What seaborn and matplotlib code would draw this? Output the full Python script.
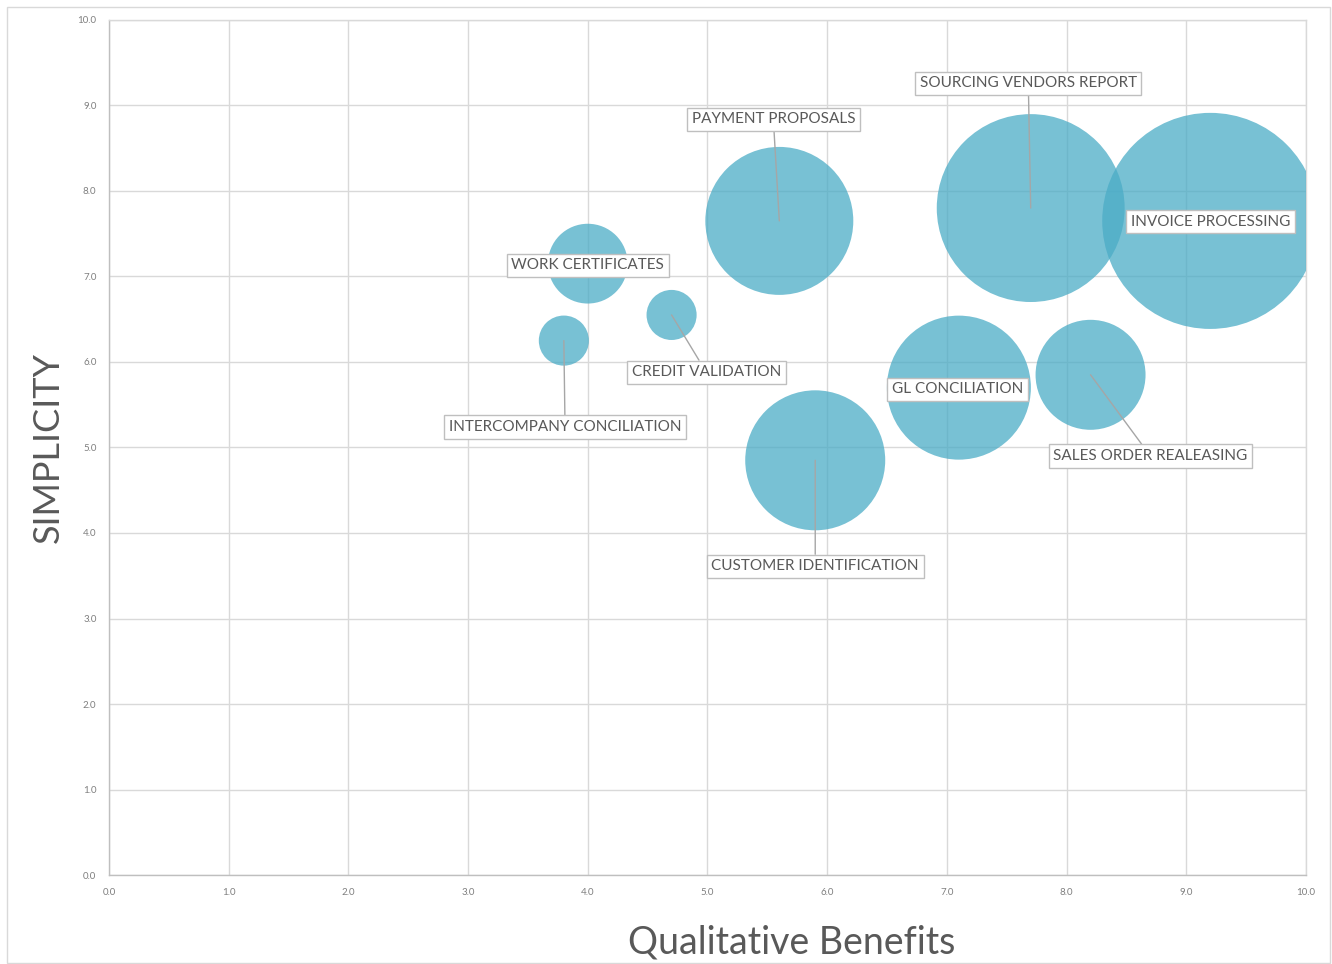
import matplotlib
matplotlib.use("Agg")
import matplotlib.pyplot as plt
import seaborn as sns
import pandas as pd
from matplotlib.patches import Rectangle

# Data
processes = ["INVOICE PROCESSING", "SOURCING VENDORS REPORT", "PAYMENT PROPOSALS",
             "WORK CERTIFICATES", "CREDIT VALIDATION", "INTERCOMPANY CONCILIATION",
             "GL CONCILIATION", "SALES ORDER REALEASING", "CUSTOMER IDENTIFICATION"]
benefits = [9.2, 7.7, 5.6, 4.0, 4.7, 3.8, 7.1, 8.2, 5.9]
simplicity = [7.65, 7.8, 7.65, 7.15, 6.55, 6.25, 5.7, 5.85, 4.85]
bubble = [24200, 18300, 11350, 3300, 1300, 1300, 10750, 6270, 10160]
label_x = [9.2, 7.68, 5.55, 4.0, 4.99, 3.81, 7.09, 8.7, 5.9]
label_y = [7.64, 9.26, 8.84, 7.13, 5.88, 5.24, 5.68, 4.9, 3.61]
leader = [False, True, True, False, True, True, False, True, True]
ticks = [0, 1, 2, 3, 4, 5, 6, 7, 8, 9, 10]

df = pd.DataFrame({"process": processes, "benefits": benefits,
                   "simplicity": simplicity, "bubble": bubble})

sns.set_theme(style="white")
plt.rcParams["font.family"] = ["Lato", "DejaVu Sans"]

fig = plt.figure(figsize=(13.32, 9.64), dpi=100)
ax = fig.add_axes([0.0818, 0.0923, 0.8987, 0.887])

sns.scatterplot(data=df, x="benefits", y="simplicity", size="bubble",
                sizes={v: v for v in bubble}, color="#4BACC6", alpha=0.75,
                edgecolor="none", linewidth=0, legend=False, ax=ax, zorder=3)

ax.set_xlim(0, 10)
ax.set_ylim(0, 10)
ax.set_xticks(ticks)
ax.set_yticks(ticks)
ax.set_xticklabels([f"{t:.1f}" for t in ticks], fontsize=7, color="#7f7f7f")
ax.set_yticklabels([f"{t:.1f}" for t in ticks], fontsize=7, color="#7f7f7f")
ax.tick_params(axis="both", length=0, pad=9)
ax.grid(True, color="#D9D9D9", linewidth=1)
ax.set_axisbelow(True)
for s in ax.spines.values():
    s.set_color("#D9D9D9")
    s.set_linewidth(1)
ax.spines["left"].set_color("#BFBFBF")
ax.spines["bottom"].set_color("#BFBFBF")

ax.set_xlabel("Qualitative Benefits", fontsize=27, color="#595959")
ax.xaxis.set_label_coords(0.57, -0.058)
ax.set_ylabel("SIMPLICITY", fontsize=26, color="#595959")
ax.yaxis.set_label_coords(-0.037, 0.5)

for name, px, py, lx, ly, ld in zip(processes, benefits, simplicity, label_x, label_y, leader):
    bbox = dict(boxstyle="square,pad=0.3", facecolor="white", edgecolor="#BFBFBF", linewidth=1)
    if ld:
        ax.annotate(name, xy=(px, py), xytext=(lx, ly), ha="center", va="center",
                    fontsize=11, color="#595959", bbox=bbox, zorder=5,
                    arrowprops=dict(arrowstyle="-", color="#A6A6A6", lw=1,
                                    shrinkA=0, shrinkB=0))
    else:
        ax.text(lx, ly, name, ha="center", va="center", fontsize=11,
                color="#595959", bbox=bbox, zorder=5)

fig.patches.append(Rectangle((7 / 1332, 1 - 963 / 964), 1323 / 1332, 956 / 964,
                             transform=fig.transFigure, fill=False,
                             edgecolor="#D9D9D9", linewidth=1))

fig.savefig("out.png", dpi=100, facecolor="white")
